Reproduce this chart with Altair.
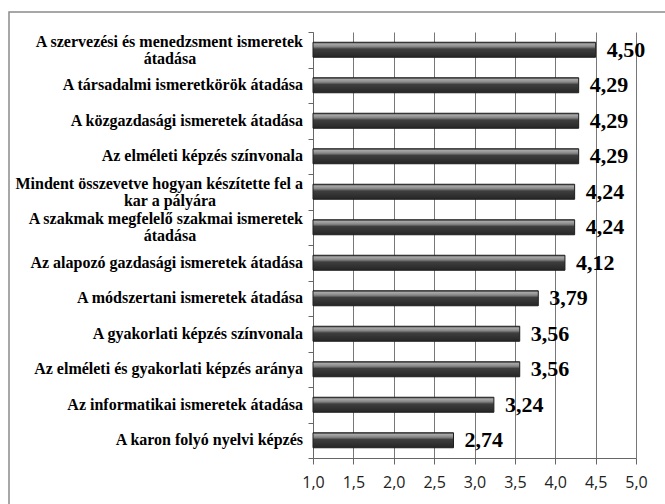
import altair as alt
import pandas as pd

# Survey items (top to bottom) and their mean scores on a 1-5 scale
categories = [
    "A szervezési és menedzsment ismeretek\nátadása",
    "A társadalmi ismeretkörök átadása",
    "A közgazdasági ismeretek átadása",
    "Az elméleti képzés színvonala",
    "Mindent összevetve hogyan készítette fel a\nkar a pályára",
    "A szakmak megfelelő szakmai ismeretek\nátadása",
    "Az alapozó gazdasági ismeretek átadása",
    "A módszertani ismeretek átadása",
    "A gyakorlati képzés színvonala",
    "Az elméleti és gyakorlati képzés aránya",
    "Az informatikai ismeretek átadása",
    "A karon folyó nyelvi képzés",
]
scores = [4.50, 4.29, 4.29, 4.29, 4.24, 4.24, 4.12, 3.79, 3.56, 3.56, 3.24, 2.74]
x_ticks = [1.0, 1.5, 2.0, 2.5, 3.0, 3.5, 4.0, 4.5, 5.0]

df = pd.DataFrame({"item": categories, "score": scores})

W, H = 323, 426
SERIF = "'Liberation Serif', 'Times New Roman', 'DejaVu Serif', serif"
SANS = "'Open Sans', 'Liberation Sans', sans-serif"

base = alt.Chart(df).transform_calculate(
    line1="split(datum.item, '\\n')[0]",
    line2="length(split(datum.item, '\\n')) > 1 ? split(datum.item, '\\n')[1] : ''",
    two="length(split(datum.item, '\\n')) > 1",
    label="replace(format(datum.score, '.2f'), '.', ',')",
)

y_enc = alt.Y(
    "item:N",
    sort=None,
    scale=alt.Scale(paddingInner=0, paddingOuter=0),
    axis=alt.Axis(
        title=None,
        labels=False,
        tickBand="extent",
        ticks=True,
        tickSize=5,
        tickColor="#666666",
        domainColor="#666666",
        grid=False,
    ),
)

x_enc = alt.X(
    "score:Q",
    scale=alt.Scale(domain=[1, 5], nice=False, zero=False),
    axis=alt.Axis(
        title=None,
        values=x_ticks,
        labelExpr="replace(format(datum.value, '.1f'), '.', ',')",
        labelFont=SANS,
        labelFontSize=16,
        labelColor="#222222",
        labelPadding=10,
        labelFlush=False,
        tickSize=6,
        tickColor="#666666",
        domainColor="#666666",
        grid=True,
        gridColor="#777777",
        gridWidth=1,
    ),
)

bar_fill = alt.Gradient(
    gradient="linear",
    x1=0, x2=0, y1=0, y2=1,
    stops=[
        alt.GradientStop(offset=0.0, color="#4a4a4a"),
        alt.GradientStop(offset=0.12, color="#a8a8a8"),
        alt.GradientStop(offset=0.3, color="#858585"),
        alt.GradientStop(offset=0.45, color="#3e3e3e"),
        alt.GradientStop(offset=1.0, color="#262626"),
    ],
)

bars = base.mark_bar(height=15, fill=bar_fill, stroke="#1e1e1e", strokeWidth=1).encode(
    x=x_enc, x2=alt.datum(1), y=y_enc
)

values = base.mark_text(
    align="left", baseline="middle", dx=11, font=SERIF, fontWeight="bold", fontSize=22, color="#000000"
).encode(x="score:Q", y=alt.Y("item:N", sort=None), text="label:N")

label_style = dict(font=SERIF, fontWeight="bold", fontSize=16, color="#000000", baseline="middle")

single = base.transform_filter("!datum.two").mark_text(align="right", **label_style).encode(
    x=alt.value(-10), y=alt.Y("item:N", sort=None), text="line1:N"
)
first = base.transform_filter("datum.two").mark_text(align="right", dy=-8, **label_style).encode(
    x=alt.value(-10), y=alt.Y("item:N", sort=None), text="line1:N"
)
second = base.transform_filter("datum.two").mark_text(align="center", dy=9, **label_style).encode(
    x=alt.value(-143), y=alt.Y("item:N", sort=None), text="line2:N"
)

frame = alt.Chart(alt.Data(values=[{}])).mark_rect(
    fill="transparent", stroke="#8a8a8a", strokeWidth=1.5
).encode(x=alt.value(-304), x2=alt.value(420), y=alt.value(-20), y2=alt.value(520))

chart = (
    alt.layer(frame, bars, values, single, first, second)
    .properties(
        width=W,
        height=H,
        autosize=alt.AutoSizeParams(type="none"),
        padding={"left": 313, "top": 32, "right": 29, "bottom": 46},
        background="white",
    )
    .configure_view(stroke=None)
)

chart.save("out.html", embed_options={"renderer": "svg", "actions": False})
